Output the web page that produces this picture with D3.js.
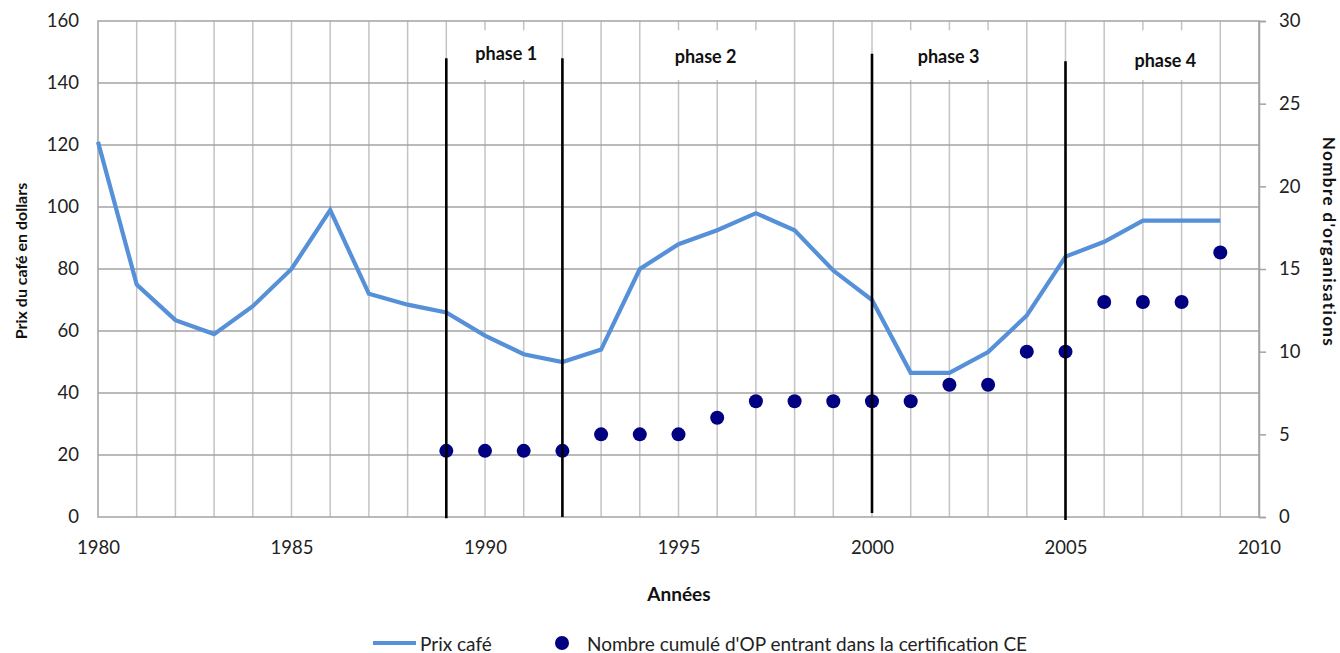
<!DOCTYPE html>
<html>
<head>
<meta charset="utf-8">
<script src="https://cdn.jsdelivr.net/npm/d3@7"></script>
<style>
  html, body { margin: 0; padding: 0; background: #fff; }
  svg { display: block; font-family: Lato, "Open Sans", sans-serif; }
</style>
</head>
<body>
<svg id="chart" width="1340" height="653"></svg>
<script>
// ---------- data ----------
const years = [1980,1981,1982,1983,1984,1985,1986,1987,1988,1989,1990,1991,1992,1993,1994,1995,1996,1997,1998,1999,2000,2001,2002,2003,2004,2005,2006,2007,2008,2009];
const prixCafe = [121,75,63.5,59,68,80,99,72,68.5,66,58.5,52.5,50,54,80,88,92.5,98,92.5,79.5,70,46.5,46.5,53.2,65,84,88.8,95.6,95.6,95.6];
const orgYears = [1989,1990,1991,1992,1993,1994,1995,1996,1997,1998,1999,2000,2001,2002,2003,2004,2005,2006,2007,2008,2009];
const nbOrganisations = [4,4,4,4,5,5,5,6,7,7,7,7,7,8,8,10,10,13,13,13,16];
const xTicks = [1980,1985,1990,1995,2000,2005,2010];
const leftTicks = [0,20,40,60,80,100,120,140,160];
const rightTicks = [0,5,10,15,20,25,30];
// phase separators (year, top value, bottom value on the left axis)
const phaseLineYears = [1989,1992,2000,2005];
const phaseLineTop = [148,148,149.4,147];
const phaseLineBottom = [-0.4,0,1.3,-1];
// phase labels (centre year, value) and the white box behind them (year span)
const phaseLabels = ["phase 1","phase 2","phase 3","phase 4"];
const phaseLabelYear = [1990.55,1995.7,2001.98,2007.58];
const phaseLabelValue = [149.8,148.8,148.8,147.4];
const phaseBoxFrom = [1989.1,1994.1,2000.1,2006.1];
const phaseBoxTo = [1991.95,1997.95,2003.9,2008.9];
const phaseBoxTop = 157, phaseBoxBottom = 141;

// ---------- layout ----------
const L = 98, R = 1259, T = 21, B = 517;
const svg = d3.select("#chart");
const x = d3.scaleLinear().domain([1980,2010]).range([L,R]);
const yL = d3.scaleLinear().domain([0,160]).range([B,T]);
const yR = d3.scaleLinear().domain([0,30]).range([B,T]);
const txt = "#222";
const tickFont = "18.5px";

// grid: vertical each year
svg.append("g").selectAll("line").data(d3.range(1981,2010)).join("line")
  .attr("x1", d => x(d)).attr("x2", d => x(d)).attr("y1", T).attr("y2", B)
  .attr("stroke", "#c4c4c4").attr("stroke-width", 1.5);
// grid: horizontal
svg.append("g").selectAll("line").data(leftTicks.slice(1,-1)).join("line")
  .attr("x1", L).attr("x2", R).attr("y1", d => yL(d)).attr("y2", d => yL(d))
  .attr("stroke", "#a3a3a3").attr("stroke-width", 1.5);
// plot border
svg.append("rect").attr("x", L).attr("y", T).attr("width", R-L).attr("height", B-T)
  .attr("fill", "none").attr("stroke", "#a3a3a3").attr("stroke-width", 1.5);

// phase label boxes (white) covering grid
svg.append("g").selectAll("rect").data(phaseLabels).join("rect")
  .attr("x", (d,i) => x(phaseBoxFrom[i]))
  .attr("width", (d,i) => x(phaseBoxTo[i]) - x(phaseBoxFrom[i]))
  .attr("y", yL(phaseBoxTop)).attr("height", yL(phaseBoxBottom) - yL(phaseBoxTop))
  .attr("fill", "#fff");

// left axis labels
const axL = d3.axisLeft(yL).tickValues(leftTicks).tickSize(0).tickPadding(19);
const gL = svg.append("g").attr("transform", `translate(${L},0)`).call(axL);
gL.select(".domain").remove();
gL.selectAll("text").attr("fill", txt).style("font-size", tickFont).style("font-family", "Lato");

// right axis
const axR = d3.axisRight(yR).tickValues(rightTicks).tickSize(7).tickPadding(13);
const gR = svg.append("g").attr("transform", `translate(${R},0)`).call(axR);
gR.select(".domain").attr("stroke", "#a3a3a3").attr("stroke-width", 1.5);
gR.selectAll("line").attr("stroke", "#a3a3a3").attr("stroke-width", 1.5);
gR.selectAll("text").attr("fill", txt).style("font-size", tickFont).style("font-family", "Lato");

// bottom axis labels
const axB = d3.axisBottom(x).tickValues(xTicks).tickFormat(d3.format("d")).tickSize(0).tickPadding(24);
const gB = svg.append("g").attr("transform", `translate(0,${B})`).call(axB);
gB.select(".domain").remove();
gB.selectAll("text").attr("fill", txt).style("font-size", tickFont).style("font-family", "Lato");

// price line
svg.append("path").datum(years.map((y,i) => [y, prixCafe[i]]))
  .attr("d", d3.line().x(d => x(d[0])).y(d => yL(d[1])))
  .attr("fill", "none").attr("stroke", "#5590d8").attr("stroke-width", 4.2)
  .attr("stroke-linejoin", "miter");

// organisation dots
svg.append("g").selectAll("circle").data(orgYears).join("circle")
  .attr("cx", d => x(d)).attr("cy", (d,i) => yR(nbOrganisations[i]))
  .attr("r", 7).attr("fill", "#000080");

// phase separator lines
svg.append("g").selectAll("line").data(phaseLineYears).join("line")
  .attr("x1", d => x(d)).attr("x2", d => x(d))
  .attr("y1", (d,i) => yL(phaseLineTop[i])).attr("y2", (d,i) => yL(phaseLineBottom[i]))
  .attr("stroke", "#000").attr("stroke-width", 2.6);

// phase labels
svg.append("g").selectAll("text").data(phaseLabels).join("text")
  .attr("x", (d,i) => x(phaseLabelYear[i])).attr("y", (d,i) => yL(phaseLabelValue[i]))
  .attr("text-anchor", "middle").attr("dominant-baseline", "central")
  .attr("fill", "#111").style("font-size", "18px").style("font-weight", "bold")
  .text(d => d);

// axis titles
svg.append("text").attr("transform", "translate(20,261) rotate(-90)")
  .attr("text-anchor", "middle").attr("dominant-baseline", "central")
  .attr("fill", "#111").style("font-size", "16px").style("font-weight", "bold")
  .text("Prix du café en dollars");
svg.append("text").attr("transform", "translate(1329,242) rotate(90)")
  .attr("text-anchor", "middle").attr("dominant-baseline", "central")
  .attr("fill", "#111").style("font-size", "17px").style("font-weight", "bold")
  .style("letter-spacing", "1.4px")
  .text("Nombre d'organisations");
svg.append("text").attr("x", 679).attr("y", 593)
  .attr("text-anchor", "middle").attr("dominant-baseline", "central")
  .attr("fill", "#111").style("font-size", "19px").style("font-weight", "bold")
  .text("Années");

// legend
const lg = svg.append("g");
lg.append("line").attr("x1", 373).attr("x2", 416).attr("y1", 643).attr("y2", 643)
  .attr("stroke", "#5590d8").attr("stroke-width", 4.2);
lg.append("text").attr("x", 420).attr("y", 643).attr("dominant-baseline", "central")
  .attr("fill", txt).style("font-size", "19px").text("Prix café");
lg.append("circle").attr("cx", 562).attr("cy", 643).attr("r", 7).attr("fill", "#000080");
lg.append("text").attr("x", 587).attr("y", 643).attr("dominant-baseline", "central")
  .attr("fill", txt).style("font-size", "19px").text("Nombre cumulé d'OP entrant dans la certification CE");
</script>
</body>
</html>
